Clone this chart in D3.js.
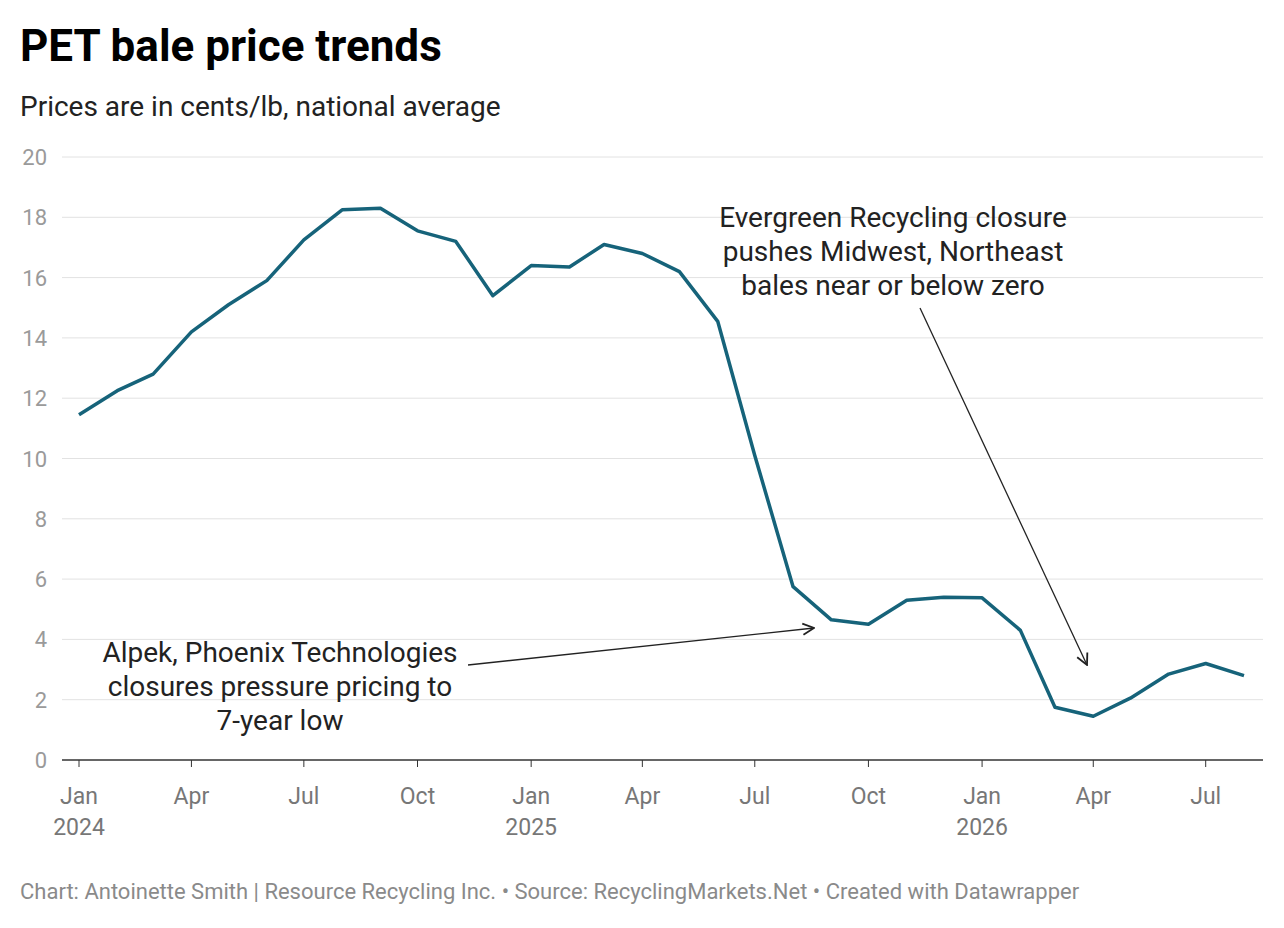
<!DOCTYPE html>
<html><head><meta charset="utf-8">
<script src="https://cdn.jsdelivr.net/npm/d3@7"></script>
<style>body{margin:0;background:#fff;font-family:Roboto,sans-serif}</style>
</head><body><svg id="chart"></svg>
<script>
const months = d3.range(32).map(i => new Date(2024, i, 1));
const prices = [11.45,12.25,12.8,14.2,15.1,15.9,17.25,18.25,18.3,17.55,17.2,15.4,
  16.4,16.35,17.1,16.8,16.2,14.55,10.1,5.75,4.65,4.5,5.3,5.4,5.38,4.3,1.75,1.45,2.05,2.85,3.2,2.8];
const yTicks = [0,2,4,6,8,10,12,14,16,18,20];

const width = 1284, height = 928;
const sel = d3.select('#chart').attr('width', width).attr('height', height);

const x = d3.scaleTime().domain([months[0], months[31]]).range([79, 1244]);
const y = d3.scaleLinear().domain([0, 20]).range([760, 157]);

sel.append('text').attr('x', 20).attr('y', 61).attr('font-size', 44).attr('font-weight', 700)
  .attr('fill', '#000').text('PET bale price trends');
sel.append('text').attr('x', 20).attr('y', 116).attr('font-size', 28).attr('fill', '#222')
  .text('Prices are in cents/lb, national average');

// grid + y labels
const g = sel.append('g');
g.selectAll('.grid').data(yTicks).join('line')
  .attr('x1', 62).attr('x2', 1263).attr('y1', d => y(d)).attr('y2', d => y(d))
  .attr('stroke', d => d === 0 ? '#333' : '#e2e2e2').attr('stroke-width', d => d === 0 ? 1.3 : 1);
g.selectAll('.yl').data(yTicks).join('text')
  .attr('x', 47).attr('y', d => y(d) + 8).attr('text-anchor', 'end')
  .attr('font-size', 22).attr('fill', '#9a9a9a').text(d => d);

// x ticks
const xt = d3.range(0, 31, 3).map(i => new Date(2024, i, 1));
g.selectAll('.xt').data(xt).join('line')
  .attr('x1', d => x(d)).attr('x2', d => x(d)).attr('y1', 760).attr('y2', 767).attr('stroke', '#333');
const fmt = d3.timeFormat('%b');
g.selectAll('.xl').data(xt).join('text')
  .attr('x', d => x(d)).attr('y', 804).attr('text-anchor', 'middle')
  .attr('font-size', 23).attr('fill', '#777').text(d => fmt(d));
g.selectAll('.xy').data(xt.filter(d => d.getMonth() === 0)).join('text')
  .attr('x', d => x(d)).attr('y', 835).attr('text-anchor', 'middle')
  .attr('font-size', 23).attr('fill', '#777').text(d => d.getFullYear());

// line
sel.append('path').datum(prices)
  .attr('d', d3.line().x((d, i) => x(months[i])).y(d => y(d)))
  .attr('fill', 'none').attr('stroke', '#16637a').attr('stroke-width', 3.5)
  .attr('stroke-linejoin', 'round');

// annotations
sel.append('defs').append('marker').attr('id', 'ah').attr('viewBox', '0 0 10 10')
  .attr('refX', 9).attr('refY', 5).attr('markerWidth', 14).attr('markerHeight', 14)
  .attr('markerUnits', 'userSpaceOnUse').attr('orient', 'auto')
  .append('path').attr('d', 'M1,1 L9,5 L1,9').attr('fill', 'none').attr('stroke', '#222').attr('stroke-width', 1.3);

function note(lines, cx, y0) {
  sel.append('text').attr('font-size', 28).attr('fill', '#222').attr('text-anchor', 'middle')
    .selectAll('tspan').data(lines).join('tspan')
    .attr('x', cx).attr('y', (d, i) => y0 + i * 34).text(d => d);
}
note(['Evergreen Recycling closure', 'pushes Midwest, Northeast', 'bales near or below zero'], 893, 227);
note(['Alpek, Phoenix Technologies', 'closures pressure pricing to', '7-year low'], 280, 662);
sel.append('line').attr('x1', 920).attr('y1', 308).attr('x2', 1087).attr('y2', 665)
  .attr('stroke', '#222').attr('stroke-width', 1.3).attr('marker-end', 'url(#ah)');
sel.append('line').attr('x1', 468).attr('y1', 665).attr('x2', 814).attr('y2', 628)
  .attr('stroke', '#222').attr('stroke-width', 1.3).attr('marker-end', 'url(#ah)');

sel.append('text').attr('x', 20).attr('y', 899).attr('font-size', 22).attr('fill', '#8a8a8a')
  .text('Chart: Antoinette Smith | Resource Recycling Inc. • Source: RecyclingMarkets.Net • Created with Datawrapper');
</script></body></html>
